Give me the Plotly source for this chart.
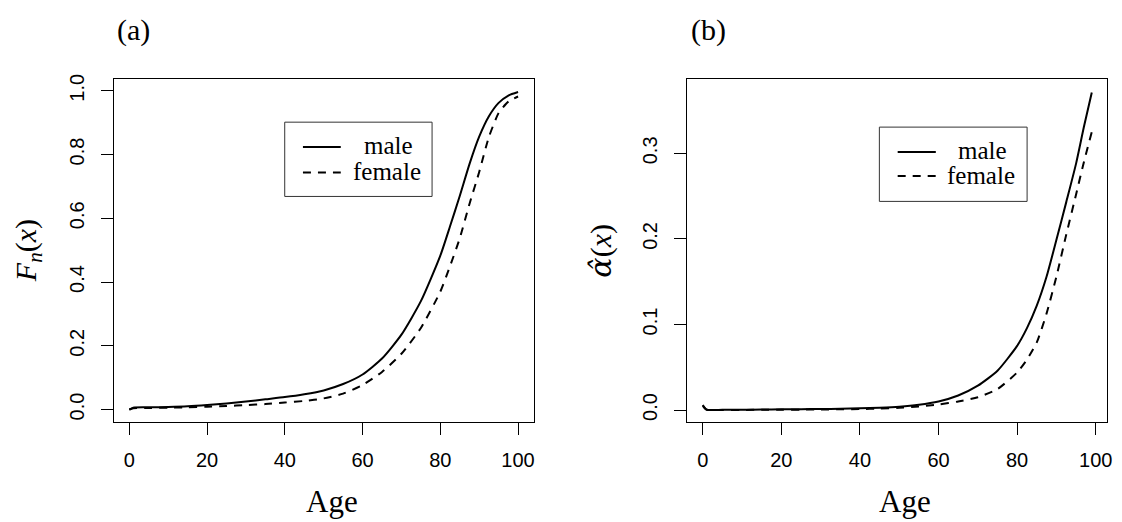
import plotly.graph_objects as go

# ---------------- data ----------------
ages_a = [0, 1, 5, 10, 15, 20, 25, 30, 35, 40, 45, 50, 55, 60, 65, 70, 75, 80,
          82.5, 85, 87.5, 90, 92.5, 95, 97.5, 100]
male_F = [0, 0.006, 0.007, 0.008, 0.010, 0.014, 0.019, 0.025, 0.032, 0.039, 0.048, 0.060,
          0.080, 0.110, 0.160, 0.235, 0.340, 0.483, 0.575, 0.670, 0.770, 0.856, 0.920,
          0.962, 0.985, 0.996]
female_F = [0, 0.004, 0.005, 0.006, 0.007, 0.009, 0.011, 0.014, 0.017, 0.022, 0.027, 0.035,
            0.050, 0.077, 0.118, 0.175, 0.256, 0.370, 0.450, 0.537, 0.645, 0.745, 0.855,
            0.930, 0.966, 0.982]

ages_b = [0, 1, 5, 10, 15, 20, 25, 30, 35, 40, 45, 50, 55, 60, 65, 70, 75, 80,
          82.5, 85, 87.5, 90, 92.5, 95, 97, 99]
male_h = [0.006, 0.0005, 0.0003, 0.0003, 0.0006, 0.0010, 0.0011, 0.0012, 0.0015, 0.0020, 0.0028,
          0.0040, 0.0062, 0.0100, 0.0170, 0.0285, 0.0460, 0.0750, 0.0957, 0.1220, 0.1560,
          0.1990, 0.2430, 0.2880, 0.3310, 0.3710]
female_h = [0.005, 0.0004, 0.0002, 0.0002, 0.0003, 0.0004, 0.0005, 0.0006, 0.0009, 0.0012, 0.0018,
            0.0027, 0.0042, 0.0066, 0.0100, 0.0150, 0.0245, 0.0440, 0.0590, 0.0790, 0.1130,
            0.1560, 0.2050, 0.2520, 0.2900, 0.3250]

x_ticks = [0, 20, 40, 60, 80, 100]
y_ticks_a = [0.0, 0.2, 0.4, 0.6, 0.8, 1.0]
y_ticks_b = [0.0, 0.1, 0.2, 0.3]
series_names = ["male", "female"]
panel_labels = ["(a)", "(b)"]

# ---------------- figure ----------------
W, H = 1122, 522
SERIF = "Liberation Serif, Times New Roman, serif"
SANS = "Liberation Sans, Arial, sans-serif"
DASH = "8px,7px"

def px(x):
    return x / W

def py(y):
    return 1 - y / H

fig = go.Figure()
line_common = dict(color="black", width=2, shape="spline", smoothing=0.6)
fig.add_trace(go.Scatter(x=ages_a, y=male_F, mode="lines", line=dict(**line_common),
                         xaxis="x", yaxis="y", name=series_names[0], showlegend=False))
fig.add_trace(go.Scatter(x=ages_a, y=female_F, mode="lines", line=dict(**line_common, dash=DASH),
                         xaxis="x", yaxis="y", name=series_names[1], showlegend=False))
fig.add_trace(go.Scatter(x=ages_b, y=male_h, mode="lines", line=dict(**line_common),
                         xaxis="x2", yaxis="y2", name=series_names[0], showlegend=False))
fig.add_trace(go.Scatter(x=ages_b, y=female_h, mode="lines", line=dict(**line_common, dash=DASH),
                         xaxis="x2", yaxis="y2", name=series_names[1], showlegend=False))

axis_common = dict(showline=True, mirror=True, linecolor="black", linewidth=1,
                   ticks="outside", ticklen=12, tickwidth=1, tickcolor="black",
                   showgrid=False, zeroline=False,
                   tickfont=dict(family=SANS, size=20, color="black"))

y_dom = [py(421), py(74.7)]
fig.update_layout(
    width=W, height=H, autosize=False,
    margin=dict(l=0, r=0, t=0, b=0),
    paper_bgcolor="white", plot_bgcolor="white",
    xaxis=dict(domain=[px(114.3), px(536)], range=[-4, 104], anchor="y",
               tickvals=x_ticks, ticklabelstandoff=8, **axis_common),
    yaxis=dict(domain=y_dom, range=[-0.039, 1.037], anchor="x",
               tickvals=y_ticks_a, tickformat=".1f", tickangle=-90,
               ticklabelstandoff=9, **axis_common),
    xaxis2=dict(domain=[px(690.3), px(1112.3)], range=[-3.96, 102.96], anchor="y2",
                tickvals=x_ticks, ticklabelstandoff=8, **axis_common),
    yaxis2=dict(domain=y_dom, range=[-0.0139, 0.3869], anchor="x2",
                tickvals=y_ticks_b, tickformat=".1f", tickangle=-90,
                ticklabelstandoff=9, **axis_common),
)

annotations = []
# panel labels
for lab, cx in zip(panel_labels, [134.3, 711.7]):
    annotations.append(dict(text=lab, x=px(cx), y=py(25.5), xref="paper", yref="paper",
                            showarrow=False, xanchor="center", yanchor="middle",
                            font=dict(family=SERIF, size=30, color="black")))
# x-axis titles
for cx in [333, 909]:
    annotations.append(dict(text="Age", x=px(cx), y=py(501), xref="paper", yref="paper",
                            showarrow=False, xanchor="center", yanchor="middle",
                            font=dict(family=SERIF, size=31, color="black")))
# y-axis titles
annotations.append(dict(text="<i>F</i><sub><i>n</i></sub>(<i>x</i>)", x=px(27.7), y=py(248),
                        xref="paper", yref="paper", showarrow=False, textangle=-90,
                        xanchor="center", yanchor="middle",
                        font=dict(family=SERIF, size=30, color="black")))
annotations.append(dict(text="<span style=\"font-family:'DejaVu Serif'\"><i>\u03b1\u0302</i></span>(<i>x</i>)",
                        x=px(603.7), y=py(248),
                        xref="paper", yref="paper", showarrow=False, textangle=-90,
                        xanchor="center", yanchor="middle",
                        font=dict(family=SERIF, size=30, color="black")))

# manual legends (centered text as in the original)
shapes = []
legends = [
    dict(box=(286, 118.3, 434, 193.3), line=(304.3, 342.3), rows=(143.3, 169), tx=(390, 388.3)),
    dict(box=(883.3, 123.3, 1031.7, 198.3), line=(901.7, 940), rows=(148.3, 172.7), tx=(987, 985.5)),
]
for lg in legends:
    bx0, by0, bx1, by1 = lg["box"]
    shapes.append(dict(type="rect", xref="paper", yref="paper",
                       x0=px(bx0), x1=px(bx1), y0=py(by1), y1=py(by0),
                       line=dict(color="#333333", width=1), fillcolor="white", layer="above"))
    for name, ry, tx, dash in zip(series_names, lg["rows"], lg["tx"], ["solid", DASH]):
        shapes.append(dict(type="line", xref="paper", yref="paper",
                           x0=px(lg["line"][0]), x1=px(lg["line"][1]), y0=py(ry), y1=py(ry),
                           line=dict(color="black", width=2, dash=dash), layer="above"))
        annotations.append(dict(text=name, x=px(tx), y=py(ry - 1), xref="paper", yref="paper",
                                showarrow=False, xanchor="center", yanchor="middle",
                                font=dict(family=SERIF, size=25, color="black")))

fig.update_layout(annotations=annotations, shapes=shapes)
fig.write_html("out.html", config={"displayModeBar": False},
               post_script="document.body.style.margin='0';document.body.style.overflow='hidden';")
